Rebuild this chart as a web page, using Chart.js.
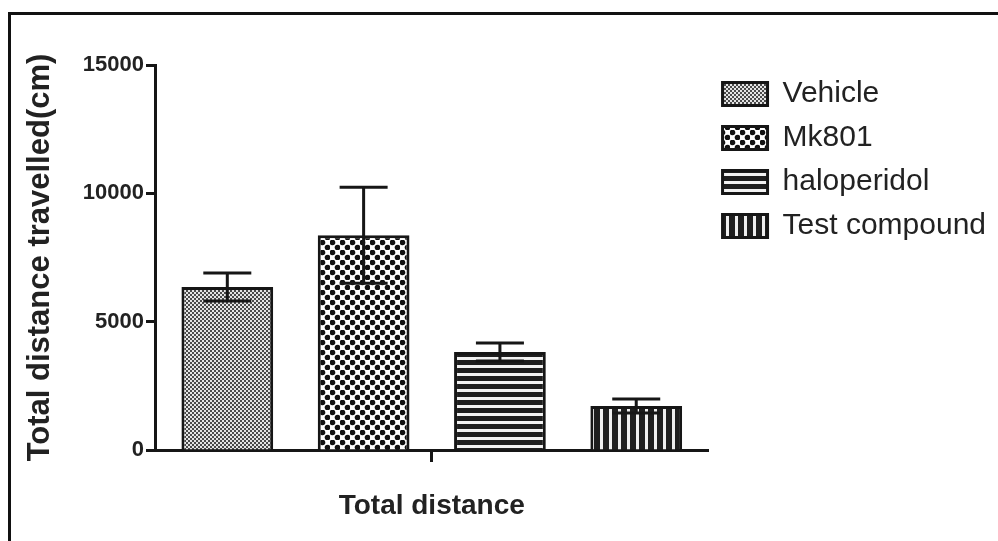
<!DOCTYPE html>
<html>
<head>
<meta charset="utf-8">
<script src="https://cdn.jsdelivr.net/npm/chart.js@4.4.1/dist/chart.umd.min.js"></script>
<style>
  body { margin: 0; background: #fff; }
  #wrap { position: relative; width: 998px; height: 541px; overflow: hidden; }
  #frame { position: absolute; left: 8px; top: 12px; right: -10px; bottom: -10px;
           border-top: 3px solid #111; border-left: 3px solid #111; }
  #myChart { position: absolute; left: 0; top: 0; }
</style>
</head>
<body>
<div id="wrap">
  <div id="frame"></div>
  <canvas id="myChart" width="998" height="541"></canvas>
</div>
<script>
// data
var category = ['Total distance'];
var groups = ['Vehicle', 'Mk801', 'haloperidol', 'Test compound'];
var means = [6350, 8370, 3820, 1715];
var errors = [545, 1870, 350, 272];
var yTicks = [0, 5000, 10000, 15000];

var ink = '#161616';
var fontFam = "'Liberation Sans', Arial, sans-serif";

// small tiles used as bar fills
function makePattern(w, h, paint){
    var c = document.createElement('canvas');
    c.width = w; c.height = h;
    var g = c.getContext('2d');
    paint(g);
    return g.createPattern(c, 'repeat');
}

var fills = [
    // vehicle: fine grey checker
    makePattern(4, 4, function(g){
        g.fillStyle = '#e4e4e4'; g.fillRect(0, 0, 4, 4);
        g.fillStyle = '#4a4a4a'; g.fillRect(0, 0, 2, 2); g.fillRect(2, 2, 2, 2);
    }),
    // mk801: black dots on white
    makePattern(10, 10, function(g){
        g.fillStyle = '#fff'; g.fillRect(0, 0, 10, 10);
        g.fillStyle = '#111';
        g.beginPath(); g.arc(2.5, 2.5, 2.8, 0, Math.PI*2); g.fill();
        g.beginPath(); g.arc(7.5, 7.5, 2.8, 0, Math.PI*2); g.fill();
    }),
    // haloperidol: horizontal lines
    makePattern(8, 8, function(g){
        g.fillStyle = '#1e1e1e'; g.fillRect(0, 0, 8, 8);
        g.fillStyle = '#f2f2f2'; g.fillRect(0, 5, 8, 3);
    }),
    // test compound: vertical lines
    makePattern(9, 9, function(g){
        g.fillStyle = '#1e1e1e'; g.fillRect(0, 0, 9, 9);
        g.fillStyle = '#eeeeee'; g.fillRect(6, 0, 3, 9);
    })
];

var datasets = groups.map(function(name, i){
    return {
        label: name,
        data: [means[i]],
        backgroundColor: fills[i],
        borderColor: ink,
        borderWidth: 3,
        borderSkipped: 'bottom'
    };
});

// mean +/- error whiskers
var errorBars = {
    id: 'errorBars',
    afterDatasetsDraw: function(chart){
        var ctx = chart.ctx;
        var y = chart.scales.y;
        ctx.save();
        ctx.strokeStyle = ink;
        ctx.lineWidth = 3;
        chart.data.datasets.forEach(function(ds, i){
            var bar = chart.getDatasetMeta(i).data[0];
            var top = y.getPixelForValue(means[i] + errors[i]);
            var low = y.getPixelForValue(means[i] - errors[i]);
            var half = 24;
            ctx.beginPath();
            ctx.moveTo(bar.x, low); ctx.lineTo(bar.x, top);
            ctx.moveTo(bar.x - half, top); ctx.lineTo(bar.x + half, top);
            ctx.moveTo(bar.x - half, low); ctx.lineTo(bar.x + half, low);
            ctx.stroke();
        });
        ctx.restore();
    }
};

var chart = new Chart(document.getElementById('myChart'), {
    type: 'bar',
    data: { labels: category, datasets: datasets },
    plugins: [errorBars],
    options: {
        responsive: false,
        animation: false,
        layout: { padding: { left: 10, top: 65, right: 2, bottom: 0 } },
        categoryPercentage: 0.985,
        barPercentage: 0.673,
        plugins: {
            tooltip: { enabled: false },
            legend: {
                position: 'right',
                align: 'start',
                maxWidth: 300,
                labels: {
                    boxWidth: 45,
                    boxHeight: 23,
                    padding: 14,
                    color: '#222',
                    font: { family: fontFam, size: 30 }
                }
            }
        },
        scales: {
            x: {
                afterFit: function(s){ s.height = 91; },
                grid: { offset: false, drawOnChartArea: false, drawTicks: true,
                        tickLength: 12, tickWidth: 3, tickColor: ink },
                border: { color: ink, width: 3 },
                ticks: { color: '#222', padding: 27,
                         font: { family: fontFam, size: 28, weight: 'bold' } }
            },
            y: {
                min: 0, max: 15000,
                afterFit: function(s){ s.width = 145; },
                afterBuildTicks: function(s){ s.ticks = yTicks.map(function(v){ return {value: v}; }); },
                grid: { drawOnChartArea: false, drawTicks: true,
                        tickLength: 9, tickWidth: 3, tickColor: ink },
                border: { color: ink, width: 3 },
                ticks: { color: '#222', padding: 2,
                         callback: function(v){ return String(v); },
                         font: { family: fontFam, size: 22, weight: 'bold' } },
                title: {
                    display: true,
                    text: 'Total distance travelled(cm)',
                    color: '#222',
                    padding: { top: 12, bottom: 0 },
                    font: { family: fontFam, size: 31, weight: 'bold' }
                }
            }
        }
    }
});
</script>
</body>
</html>
